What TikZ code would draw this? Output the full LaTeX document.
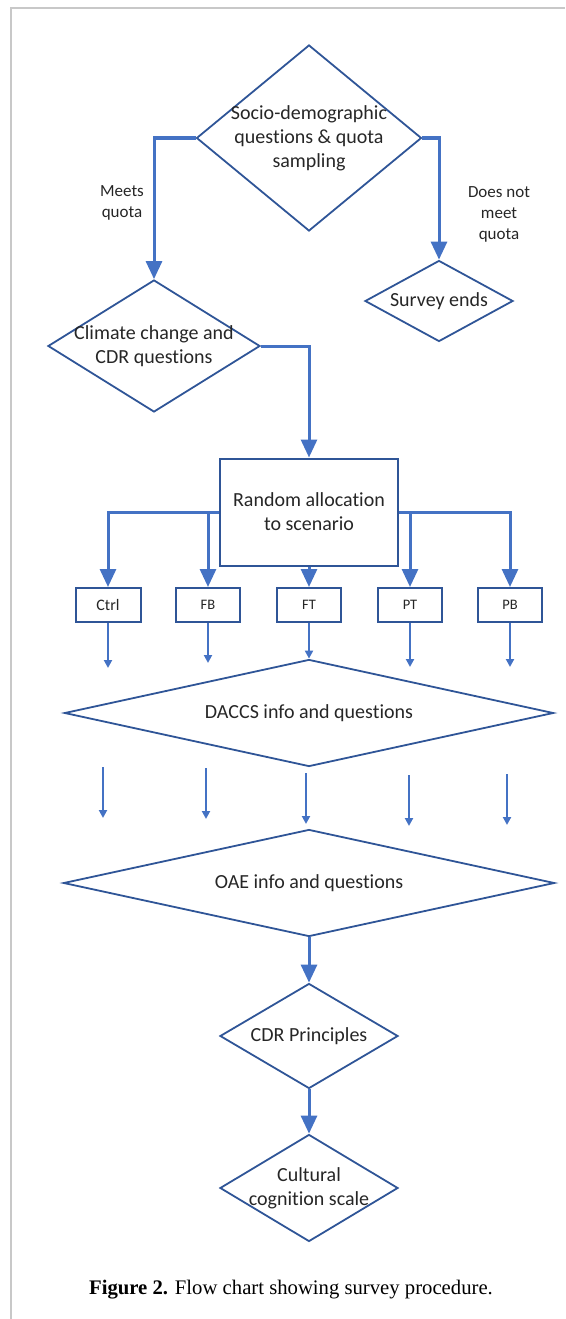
\documentclass[tikz,border=0pt]{standalone}
\usepackage{fontspec}
\setmainfont{Carlito}[Ligatures=NoCommon]
\newfontfamily\capfont{Liberation Serif}
\usetikzlibrary{shapes.geometric,arrows.meta}
\definecolor{arrowblue}{HTML}{4472C4}
\definecolor{edgeblue}{HTML}{2F5597}
\definecolor{framegray}{HTML}{C8C8C8}
\begin{document}
\begin{tikzpicture}[x=1pt,y=-1pt,
  dia/.style={diamond, draw=edgeblue, line width=1.8pt, inner sep=0pt},
  boxnode/.style={rectangle, draw=edgeblue, line width=2pt, inner sep=0pt},
  txt/.style={font=\fontsize{20}{24}\selectfont, align=center, inner sep=0pt, text=black!85},
  flow/.style={draw=arrowblue, line width=3pt, -{Triangle[length=18pt,width=16pt]}},
  thinflow/.style={draw=arrowblue, line width=2.5pt, -{Triangle[length=8pt,width=8pt]}},
  lbl/.style={font=\fontsize{17}{21}\selectfont, align=center, inner sep=0pt, text=black!85},
  small/.style={boxnode, minimum width=64pt, minimum height=34pt, font=\fontsize{14.5}{16}\selectfont, text=black!85}]
\useasboundingbox (0,0) rectangle (565,1319);
% frame
\draw[framegray, line width=2pt] (10.5,1319) -- (10.5,8.5) -- (565,8.5);
% nodes
\node[dia, minimum width=225pt, minimum height=186pt,
  label={[txt]center:Socio-demographic\\questions \& quota\\sampling}] (d1) at (309,138) {};
\node[dia, minimum width=148pt, minimum height=81pt,
  label={[txt]center:Survey ends}] (d2) at (439,301) {};
\node[dia, minimum width=212pt, minimum height=132pt,
  label={[txt]center:Climate change and\\CDR questions}] (d3) at (154,346) {};
\node[boxnode, minimum width=178pt, minimum height=107pt, txt] (r) at (309,512) {Random allocation\\to scenario};
\node[small, minimum width=65pt, font=\fontsize{16}{18}\selectfont] (ctrl) at (108,605) {Ctrl};
\node[small] (fb) at (208,605) {FB};
\node[small] (ft) at (309,605) {FT};
\node[small] (pt) at (410,605) {PT};
\node[small] (pb) at (510,605) {PB};
\node[dia, minimum width=489pt, minimum height=107pt,
  label={[txt]center:DACCS info and questions}] (d4) at (309,713) {};
\node[dia, minimum width=491pt, minimum height=107pt,
  label={[txt]center:OAE info and questions}] (d5) at (309,883) {};
\node[dia, minimum width=178pt, minimum height=105pt,
  label={[txt]center:CDR Principles}] (d6) at (309,1036) {};
\node[dia, minimum width=178pt, minimum height=107pt,
  label={[txt]center:Cultural\\cognition scale}] (d7) at (309,1188) {};
% labels
\node[lbl] (meets) at (122,203) {Meets\\quota};
\node[lbl] (notmeet) at (499,214) {Does not\\meet\\quota};
% connectors
\draw[flow] (d1.west) -| (d3.north);
\draw[flow] (d1.east) -| (d2.north);
\draw[flow] (d3.east) -| (r.north);
\draw[flow] (r.west) -| (ctrl.north);
\draw[flow] (fb.north |- r.west) -- (fb.north);
\draw[flow] (r.south) -- (ft.north);
\draw[flow] (r.east) -| (pb.north);
\draw[flow] (pt.north |- r.east) -- (pt.north);
% short arrows from scenario boxes
\coordinate (ctrlend) at (108,668);
\coordinate (fbend) at (208,663);
\coordinate (ptend) at (410,667);
\coordinate (pbend) at (510,667);
\draw[thinflow] (ctrl.south) -- (ctrlend);
\draw[thinflow] (fb.south) -- (fbend);
\draw[thinflow] (ft.south) -- (d4.north);
\draw[thinflow] (pt.south) -- (ptend);
\draw[thinflow] (pb.south) -- (pbend);
% free arrows between DACCS and OAE
\coordinate (a1s) at (103,767); \coordinate (a1e) at (103,818);
\coordinate (a2s) at (206,768); \coordinate (a2e) at (206,819);
\coordinate (a3s) at (306,773); \coordinate (a3e) at (306,824);
\coordinate (a4s) at (409,775); \coordinate (a4e) at (409,826);
\coordinate (a5s) at (507,774); \coordinate (a5e) at (507,825);
\draw[thinflow] (a1s) -- (a1e);
\draw[thinflow] (a2s) -- (a2e);
\draw[thinflow] (a3s) -- (a3e);
\draw[thinflow] (a4s) -- (a4e);
\draw[thinflow] (a5s) -- (a5e);
\draw[flow] (d5.south) -- (d6.north);
\draw[flow] (d6.south) -- (d7.north);
% caption
\node[font=\capfont\fontsize{20.7}{24}\selectfont, inner sep=0pt] (cap) at (291,1290) {\textbf{Figure 2.} Flow chart showing survey procedure.};
\end{tikzpicture}
\end{document}
